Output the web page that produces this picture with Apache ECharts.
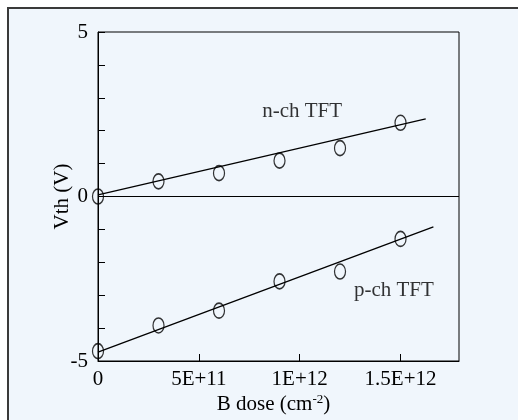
<!DOCTYPE html>
<html>
<head>
<meta charset="utf-8">
<script src="https://cdn.jsdelivr.net/npm/echarts@6/dist/echarts.min.js"></script>
<style>
  html, body { margin: 0; padding: 0; background: #fff; overflow: hidden; }
  #main { width: 518px; height: 420px; }
</style>
</head>
<body>
<div id="main"></div>
<script>
// measured points (B dose in cm^-2, Vth in V)
const doses = [0, 3e11, 6e11, 9e11, 1.2e12, 1.5e12];
const nchVth = [0, 0.46, 0.71, 1.09, 1.47, 2.24];
const pchVth = [-4.70, -3.92, -3.47, -2.58, -2.28, -1.29];

// fitted lines (end points)
const nchFit = [[0, 0.05], [1.625e12, 2.36]];
const pchFit = [[0, -4.73], [1.663e12, -0.92]];

// curve labels
const curveLabels = [
  { name: "n-ch TFT", value: [1.012e12, 2.58] },
  { name: "p-ch TFT", value: [1.467e12, -2.86] }
];

const xTicks = [0, 5e11, 1e12, 1.5e12];
const xTickLabels = ["0", "5E+11", "1E+12", "1.5E+12"];
const yTicks = [-5, 0, 5];
const yTickLabels = ["-5", "0", "5"];

const FONT = "Liberation Serif";
const FS = 21;
const pickLabel = (ticks, labels) => v => {
  const i = ticks.findIndex(t => Math.abs(t - v) < Math.abs(ticks[ticks.length - 1] || 1) * 1e-6 + 1e-9);
  return i < 0 ? "" : labels[i];
};

const chart = echarts.init(document.getElementById("main"));

const markerStyle = {
  color: "rgba(0,0,0,0)",
  borderColor: "#000",
  borderWidth: 1.4
};

chart.setOption({
  animation: false,
  backgroundColor: "#fff",
  textStyle: { fontFamily: FONT, color: "#000" },
  graphic: [{
    type: "rect",
    z: -100,
    silent: true,
    shape: { x: 8, y: 8, width: 540, height: 440 },
    style: { fill: "#F0F6FC", stroke: "#3a3a3a", lineWidth: 2 }
  }],
  grid: {
    show: true,
    left: 98,
    top: 32,
    right: 59,
    bottom: 59,
    borderColor: "#000",
    borderWidth: 1,
    backgroundColor: "transparent"
  },
  xAxis: {
    type: "value",
    min: 0,
    max: 1.79e12,
    interval: 5e11,
    axisLine: { onZero: false, lineStyle: { color: "#000", width: 1 } },
    axisTick: { inside: true, length: 7, lineStyle: { color: "#000" } },
    splitLine: { show: false },
    axisLabel: {
      showMaxLabel: false,
      margin: 8,
      fontFamily: FONT,
      fontSize: FS,
      color: "#000",
      formatter: pickLabel(xTicks, xTickLabels)
    },
    name: "{a|B dose (cm}{s|-2}{e|)}",
    nameLocation: "middle",
    nameGap: 32,
    nameMoveOverlap: false,
    nameTextStyle: {
      rich: {
        a: { fontFamily: FONT, fontSize: FS, color: "#000", lineHeight: 23 },
        s: { fontFamily: FONT, fontSize: 13, color: "#000", padding: [0, 0, 10, 0] },
        e: { fontFamily: FONT, fontSize: FS, color: "#000", lineHeight: 23, padding: [0, 10, 0, 0] }
      }
    }
  },
  yAxis: {
    type: "value",
    min: -5,
    max: 5,
    interval: 1,
    axisLine: { onZero: false, lineStyle: { color: "#000", width: 1 } },
    axisTick: { inside: true, length: 7, lineStyle: { color: "#000" } },
    splitLine: { show: false },
    axisLabel: {
      margin: 10,
      fontFamily: FONT,
      fontSize: FS,
      color: "#000",
      formatter: pickLabel(yTicks, yTickLabels)
    },
    name: "Vth (V)",
    nameLocation: "middle",
    nameGap: 25,
    nameMoveOverlap: false,
    nameTextStyle: { fontFamily: FONT, fontSize: FS, color: "#000" }
  },
  series: [
    {
      type: "line",
      data: nchFit,
      symbol: "none",
      lineStyle: { color: "#000", width: 1.3 },
      markLine: {
        silent: true,
        symbol: "none",
        label: { show: false },
        lineStyle: { color: "#000", width: 1, type: "solid" },
        data: [{ yAxis: 0 }]
      }
    },
    {
      type: "line",
      data: pchFit,
      symbol: "none",
      lineStyle: { color: "#000", width: 1.3 }
    },
    {
      type: "scatter",
      data: doses.map((d, i) => [d, nchVth[i]]),
      symbol: "circle",
      symbolSize: [11, 15],
      itemStyle: markerStyle,
      z: 5
    },
    {
      type: "scatter",
      data: doses.map((d, i) => [d, pchVth[i]]),
      symbol: "circle",
      symbolSize: [11, 15],
      itemStyle: markerStyle,
      z: 5
    },
    {
      type: "scatter",
      data: curveLabels,
      symbolSize: 0,
      label: {
        show: true,
        position: "inside",
        formatter: p => p.name,
        fontFamily: FONT,
        fontSize: FS,
        color: "#000"
      }
    }
  ]
});
</script>
</body>
</html>
